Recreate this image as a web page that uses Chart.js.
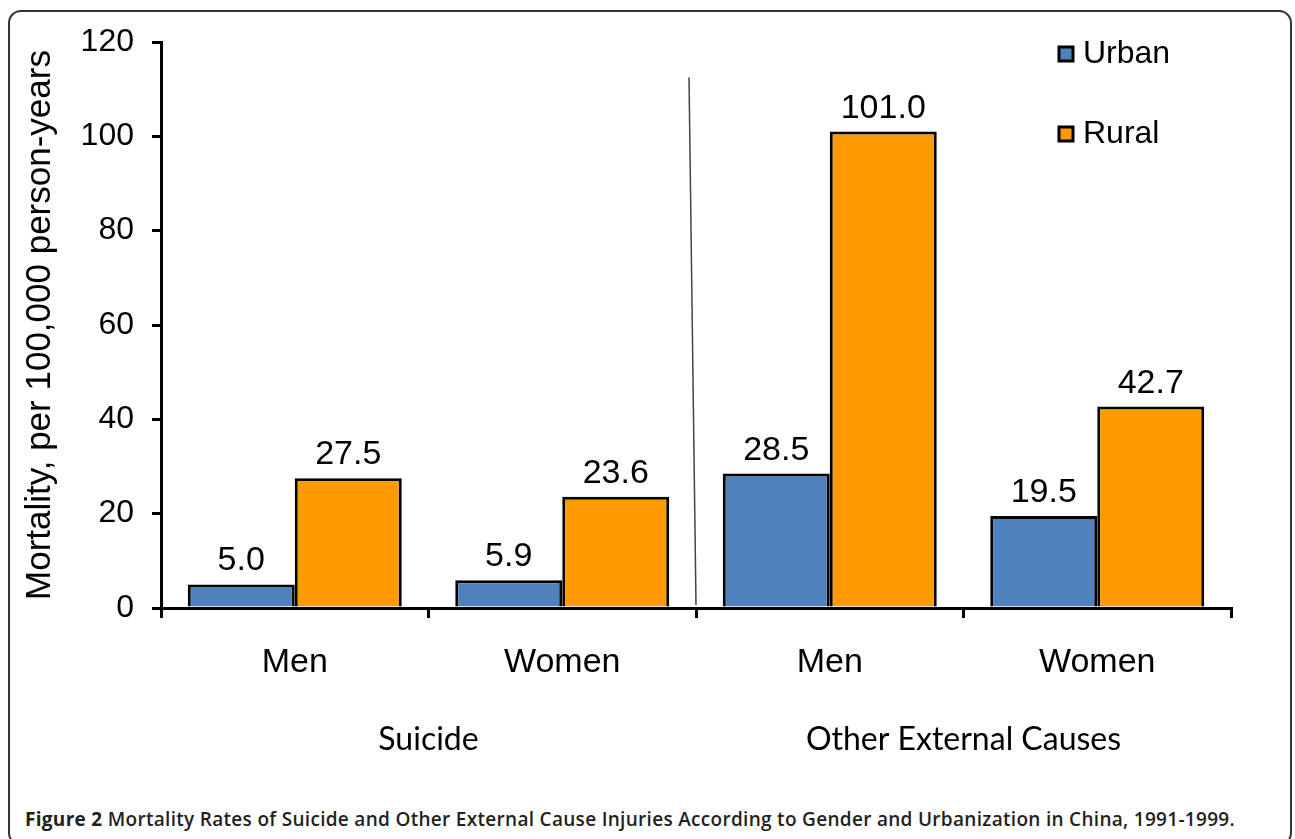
<!DOCTYPE html>
<html>
<head>
<meta charset="utf-8">
<script src="https://cdn.jsdelivr.net/npm/chart.js@4/dist/chart.umd.min.js"></script>
<style>
    html, body { margin: 0; padding: 0; background: #fff; }
    body { width: 1295px; height: 839px; position: relative; overflow: hidden; }
    .cadre {
        position: absolute; left: 8px; top: 10px; width: 1284px; height: 836px;
        border: 2px solid #333; border-radius: 13px; box-sizing: border-box;
    }
    #zone { position: absolute; left: 0; top: 0; width: 1295px; height: 775px; }
    .legende {
        position: absolute; left: 25px; top: 806px; white-space: nowrap;
        font-family: "Open Sans", sans-serif; font-size: 19px; font-weight: 600;
        color: #231f20; letter-spacing: 0.3px;
    }
    .legende b { font-weight: 700; }
</style>
</head>
<body>
<div class="cadre"></div>
<div id="zone"><canvas id="graphe"></canvas></div>
<div class="legende"><b>Figure 2</b> Mortality Rates of Suicide and Other External Cause Injuries According to Gender and Urbanization in China, 1991-1999.</div>

<script>
// Données
const categories = ['Men', 'Women', 'Men', 'Women'];
const groupes = ['Suicide', 'Other External Causes'];
const urbain = [5.0, 5.9, 28.5, 19.5];
const rural = [27.5, 23.6, 101.0, 42.7];
const seriesNoms = ['Urban', 'Rural'];

const bleu = '#4F81BD';
const orange = '#FF9A00';
const police = '"Liberation Sans", Arial, sans-serif';

// Étiquettes de valeur au-dessus des barres
const etiquettesPlugin = {
    id: 'etiquettes',
    afterDatasetsDraw(chart) {
        const ctx = chart.ctx;
        ctx.save();
        ctx.font = '34px ' + police;
        ctx.fillStyle = '#000';
        ctx.textAlign = 'center';
        ctx.textBaseline = 'alphabetic';
        chart.data.datasets.forEach((ds, i) => {
            chart.getDatasetMeta(i).data.forEach((bar, j) => {
                ctx.fillText(ds.data[j].toFixed(1), bar.x, bar.y - 14);
            });
        });
        ctx.restore();
    }
};

// Trait séparateur entre les deux groupes
const separateurPlugin = {
    id: 'separateur',
    afterDraw(chart) {
        const x = chart.scales.x;
        const y = chart.scales.y;
        const bx = x.getPixelForValue(1.5);
        const ctx = chart.ctx;
        ctx.save();
        ctx.strokeStyle = '#444';
        ctx.lineWidth = 1.5;
        ctx.beginPath();
        ctx.moveTo(bx - 7, y.getPixelForValue(112.5));
        ctx.lineTo(bx, y.getPixelForValue(0) - 3);
        ctx.stroke();
        ctx.restore();
    }
};

// Légende verticale en haut à droite
const legendePlugin = {
    id: 'legendePerso',
    afterDraw(chart) {
        const ctx = chart.ctx;
        const area = chart.chartArea;
        ctx.save();
        ctx.font = '32px ' + police;
        ctx.textBaseline = 'middle';
        chart.data.datasets.forEach((ds, i) => {
            const cy = area.top + 12 + i * 80;
            const cx = area.right - 172;
            ctx.fillStyle = ds.backgroundColor;
            ctx.fillRect(cx, cy - 7, 14, 14);
            ctx.strokeStyle = '#000';
            ctx.lineWidth = 3;
            ctx.strokeRect(cx, cy - 7, 14, 14);
            ctx.fillStyle = '#000';
            ctx.fillText(ds.label, cx + 24, cy);
        });
        ctx.restore();
    }
};

function creerGraphe() {
    const ctx = document.getElementById('graphe').getContext('2d');
    new Chart(ctx, {
        type: 'bar',
        data: {
            labels: categories,
            datasets: [{
                label: seriesNoms[0],
                data: urbain,
                backgroundColor: bleu,
                borderColor: '#000',
                borderWidth: 3,
                borderSkipped: 'bottom'
            }, {
                label: seriesNoms[1],
                data: rural,
                backgroundColor: orange,
                borderColor: '#000',
                borderWidth: 3,
                borderSkipped: 'bottom'
            }]
        },
        options: {
            responsive: true,
            maintainAspectRatio: false,
            animation: false,
            categoryPercentage: 0.8,
            barPercentage: 1.0,
            layout: { padding: { left: 0, top: 42, right: 64, bottom: 0 } },
            plugins: {
                legend: { display: false },
                tooltip: { enabled: false }
            },
            scales: {
                x: {
                    type: 'category',
                    offset: true,
                    grid: {
                        offset: true,
                        drawOnChartArea: false,
                        drawTicks: true,
                        tickLength: 10,
                        color: '#000',
                        lineWidth: 3
                    },
                    border: { color: '#000', width: 3 },
                    ticks: {
                        color: '#000',
                        font: { family: police, size: 34 },
                        padding: 24,
                        maxRotation: 0
                    },
                    afterFit(scale) { scale.height = 104; }
                },
                groupes: {
                    type: 'category',
                    position: 'bottom',
                    labels: groupes,
                    offset: true,
                    grid: { display: false },
                    border: { display: false },
                    ticks: {
                        color: '#000',
                        font: { family: 'Lato, "Open Sans", sans-serif', size: 32 },
                        padding: 0,
                        maxRotation: 0
                    },
                    afterFit(scale) { scale.height = 63; }
                },
                y: {
                    min: 0,
                    max: 120,
                    ticks: {
                        stepSize: 20,
                        color: '#000',
                        font: { family: police, size: 32 },
                        padding: 18
                    },
                    grid: {
                        drawOnChartArea: false,
                        drawTicks: true,
                        tickLength: 9,
                        color: '#000',
                        lineWidth: 3
                    },
                    border: { color: '#000', width: 3 },
                    title: {
                        display: true,
                        text: 'Mortality, per 100,000 person-years',
                        color: '#000',
                        font: { family: police, size: 35 },
                        padding: { top: 19, bottom: 0 }
                    },
                    afterFit(scale) { scale.width = 161; }
                }
            }
        },
        plugins: [etiquettesPlugin, separateurPlugin, legendePlugin]
    });
}

document.addEventListener('DOMContentLoaded', creerGraphe);
</script>
</body>
</html>
